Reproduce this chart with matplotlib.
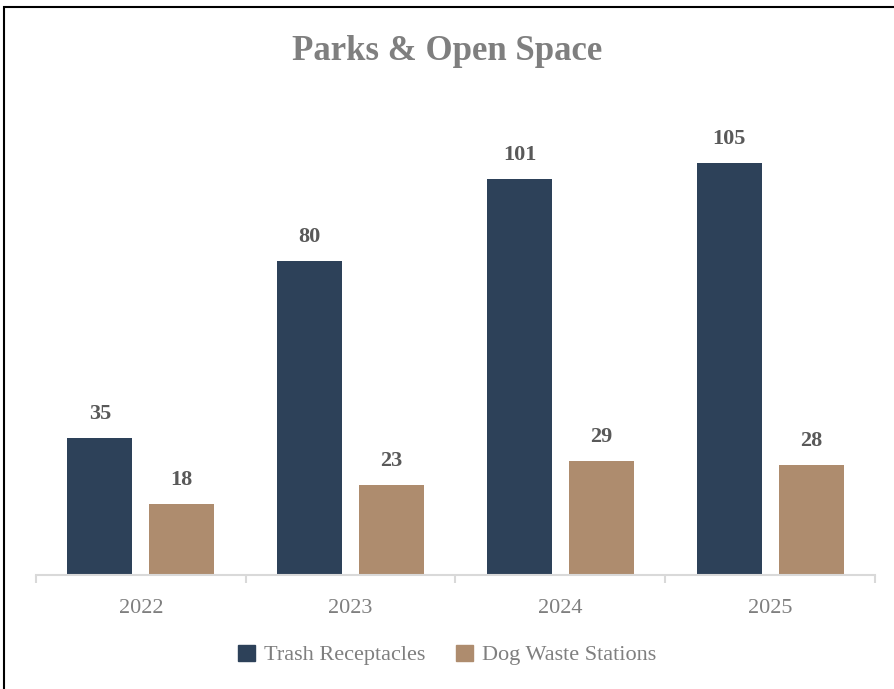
import numpy as np
import matplotlib.pyplot as plt
from matplotlib.patches import Rectangle, Patch

years = ['2022', '2023', '2024', '2025']
trash = [35, 80, 101, 105]
dog_waste = [18, 23, 29, 28]

navy = '#2d4159'
tan = '#ae8c6e'
gray = '#7f7f7f'
label_gray = '#595959'

plt.rcParams['font.family'] = ['Liberation Serif', 'DejaVu Serif']

W, H = 894, 689
fig = plt.figure(figsize=(W / 100, H / 100), dpi=100)
ax = fig.add_axes([36 / W, (H - 575) / H, (875 - 36) / W, (575 - 100) / H])

x = np.arange(len(years))
width = 0.31
off = 0.195
b1 = ax.bar(x - off, trash, width, color=navy, label='Trash Receptacles')
b2 = ax.bar(x + off, dog_waste, width, color=tan, label='Dog Waste Stations')

for bars in (b1, b2):
    ax.bar_label(bars, padding=10, fontsize=16, fontweight='bold', color=label_gray)

ax.set_xlim(-0.5, len(years) - 0.5)
ax.set_ylim(0, 121)
ax.set_yticks([])
for s in ('top', 'right', 'left'):
    ax.spines[s].set_visible(False)
ax.spines['bottom'].set_color('#d9d9d9')
ax.spines['bottom'].set_linewidth(1.5)

ax.set_xticks(x)
ax.set_xticklabels(years, fontsize=16, color=gray)
ax.tick_params(axis='x', length=0, pad=17)
# category boundary ticks
ax.set_xticks(np.arange(-0.5, len(years)), minor=True)
ax.tick_params(axis='x', which='minor', length=6, width=1.5, color='#d9d9d9')

fig.text(0.5, (H - 51) / H, 'Parks & Open Space', ha='center', va='center',
         fontsize=25, fontweight='bold', color=gray)

handles = [Patch(color=navy), Patch(color=tan)]
fig.legend(handles, ['Trash Receptacles', 'Dog Waste Stations'], loc='center',
           bbox_to_anchor=(0.5, (H - 655) / H), ncol=2, frameon=False,
           fontsize=16, labelcolor=gray, handlelength=0.75, handleheight=0.75,
           handletextpad=0.4, columnspacing=1.4)

# outer border (top and left visible, rest cropped)
fig.add_artist(Rectangle((4 / W, -0.1), 1.2, (H - 7) / H + 0.1,
                         transform=fig.transFigure, fill=False,
                         edgecolor='black', linewidth=1.5, clip_on=False))

fig.savefig('out.png', dpi=100)
